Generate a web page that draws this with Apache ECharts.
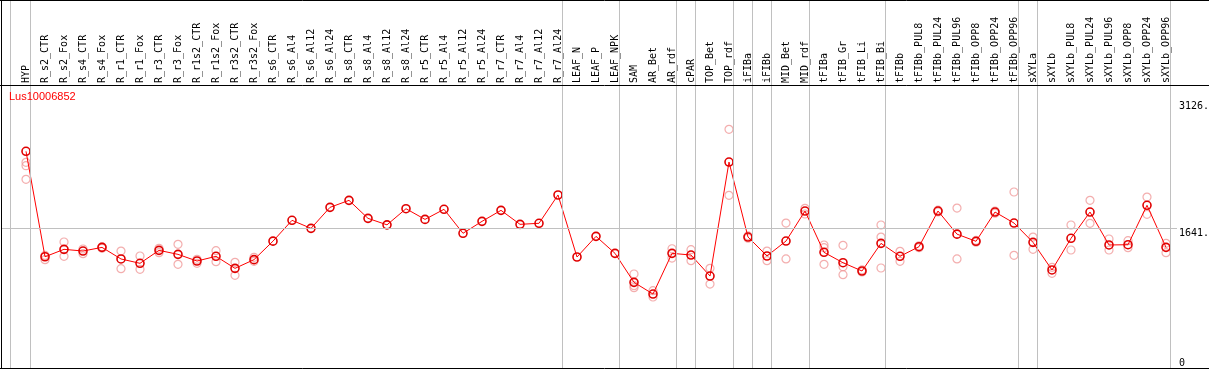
<!DOCTYPE html>
<html>
<head>
<meta charset="utf-8">
<script src="https://cdn.jsdelivr.net/npm/echarts@6/dist/echarts.min.js"></script>
<style>
  html, body { margin: 0; padding: 0; background: #fff; }
  #chart { width: 1209px; height: 370px; }
</style>
</head>
<body>
<div id="chart"></div>
<script>
const geneName = 'Lus10006852';

const categories = [
  'HYP', 'R_s2_CTR', 'R_s2_Fox', 'R_s4_CTR', 'R_s4_Fox', 'R_r1_CTR', 'R_r1_Fox', 'R_r3_CTR', 'R_r3_Fox',
  'R_r1s2_CTR', 'R_r1s2_Fox', 'R_r3s2_CTR', 'R_r3s2_Fox', 'R_s6_CTR', 'R_s6_Al4', 'R_s6_Al12', 'R_s6_Al24',
  'R_s8_CTR', 'R_s8_Al4', 'R_s8_Al12', 'R_s8_Al24', 'R_r5_CTR', 'R_r5_Al4', 'R_r5_Al12', 'R_r5_Al24',
  'R_r7_CTR', 'R_r7_Al4', 'R_r7_Al12', 'R_r7_Al24', 'LEAF_N', 'LEAF_P', 'LEAF_NPK', 'SAM', 'AR_Bet', 'AR_rdf',
  'cPAR', 'TOP_Bet', 'TOP_rdf', 'iFIBa', 'iFIBb', 'MID_Bet', 'MID_rdf', 'tFIBa', 'tFIB_Gr', 'tFIB_Li', 'tFIB_Bi',
  'tFIBb', 'tFIBb_PUL8', 'tFIBb_PUL24', 'tFIBb_PUL96', 'tFIBb_OPP8', 'tFIBb_OPP24', 'tFIBb_OPP96',
  'sXYLa', 'sXYLb', 'sXYLb_PUL8', 'sXYLb_PUL24', 'sXYLb_PUL96', 'sXYLb_OPP8', 'sXYLb_OPP24', 'sXYLb_OPP96'
];

// mean expression (line)
const expression = [
  2540, 1304, 1391, 1371, 1414, 1278, 1227, 1379, 1332,
  1254, 1309, 1168, 1270, 1487, 1731, 1637, 1883,
  1965, 1754, 1678, 1867, 1742, 1860, 1579, 1719,
  1848, 1684, 1696, 2028, 1301, 1543, 1344, 1004, 867, 1344,
  1324, 1078, 2414, 1535, 1313, 1488, 1840, 1356, 1234, 1137, 1461,
  1309, 1422, 1840, 1569, 1485, 1828, 1699,
  1473, 1149, 1520, 1828, 1442, 1445, 1907, 1414
];

// replicate values (light circles)
const rep1 = [
  2411, 1320, 1477, 1395, 1420, 1371, 1313, 1403, 1450,
  1274, 1375, 1239, 1297, null, null, null, null,
  null, null, null, null, null, null, null, null,
  null, null, null, null, null, null, null, 1102, 906, 1398,
  1387, 1168, 2798, 1548, 1371, 1699, 1872, 1442, 1438, 1150, 1676,
  1368, 1432, 1850, 1875, 1495, 1840, 2063,
  1535, 1180, 1676, 1965, 1512, 1492, 2004, 1461
];
const rep2 = [
  2371, 1270, 1309, 1340, 1405, 1164, 1157, 1352, 1215,
  1227, 1246, 1086, 1250, null, null, null, null,
  null, null, null, null, null, null, null, null,
  null, null, null, null, null, null, null, 941, 832, 1289,
  1258, 984, 2024, 1522, 1258, 1278, 1805, 1410, 1187, 1125, 1535,
  1250, 1410, 1830, 1278, 1475, 1815, 1321,
  1391, 1110, 1383, 1696, 1383, 1410, 1801, 1352
];
const rep3 = [
  2211, null, null, null, null, null, null, null, null,
  null, null, null, null, null, null, null, null,
  null, null, null, null, null, null, null, null,
  null, null, null, null, null, null, null, 965, null, null,
  null, null, null, null, null, null, null, 1215, 1094, null, 1172,
  null, null, null, null, null, null, null,
  null, null, null, null, null, null, null, null
];

// y-axis tick labels
const yTicksTop = [1641, 3126];
const yTicksBottom = [0];
const refLineValue = 1641;

// group separators (in category-index units)
const groupBreaks = [-0.84, 0.22, 28.24, 31.24, 34.24, 35.24, 37.2, 38.2, 39.24, 41.24, 45.24, 52.2, 53.2, 60.2];

const chart = echarts.init(document.getElementById('chart'), null, { renderer: 'canvas' });

const repData = [rep1, rep2, rep3].map(arr => {
  const out = [];
  arr.forEach((v, i) => { if (v != null) out.push([i, v]); });
  return out;
});

const monoFont = 'DejaVu Sans Mono';
// plot geometry
const BAND = 19, FIRST = 26, W = 1209, H = 370, PLOT_TOP = 86, PLOT_BOTTOM = 368, RIGHT_EDGE = 1177;
const pxPerUnit = (PLOT_BOTTOM - 228) / refLineValue;
const yMaxData = (PLOT_BOTTOM - PLOT_TOP) / pxPerUnit;
const yMaxFull = PLOT_BOTTOM / pxPerUnit;

const option = {
  animation: false,
  backgroundColor: '#fff',
  title: {
    text: geneName, left: 9, top: 91, padding: 0,
    textStyle: { fontFamily: 'Liberation Sans', fontSize: 11, fontWeight: 'normal', color: '#ff0000' }
  },
  grid: [
    { // data grid
      left: FIRST - BAND / 2, width: categories.length * BAND,
      top: PLOT_TOP, bottom: H - PLOT_BOTTOM, outerBoundsMode: 'none', containLabel: false
    },
    { // decoration grid, full height
      left: 1, right: W - RIGHT_EDGE, top: 0, bottom: H - PLOT_BOTTOM, outerBoundsMode: 'none', containLabel: false
    }
  ],
  xAxis: [
    {
      type: 'category', gridIndex: 0, data: categories, position: 'top', boundaryGap: true,
      axisLine: { show: false }, axisTick: { show: false }, splitLine: { show: false },
      axisLabel: { interval: 0, rotate: 90, margin: 3, fontFamily: monoFont, fontSize: 10, color: '#000' }
    },
    {
      type: 'value', gridIndex: 1, min: (1 - FIRST) / BAND, max: (RIGHT_EDGE - FIRST) / BAND,
      show: false
    }
  ],
  yAxis: [
    {
      type: 'value', gridIndex: 0, min: 0, max: yMaxData, show: false
    },
    {
      type: 'value', gridIndex: 1, min: 0, max: yMaxFull, position: 'right',
      axisLine: { show: false }, axisTick: { show: false }, splitLine: { show: false },
      axisLabel: {
        customValues: yTicksTop, margin: 2, verticalAlign: 'top', align: 'left',
        fontFamily: monoFont, fontSize: 10, color: '#000',
        formatter: v => v + '.'
      }
    },
    {
      type: 'value', gridIndex: 1, min: 0, max: yMaxFull, position: 'right',
      axisLine: { show: false }, axisTick: { show: false }, splitLine: { show: false },
      axisLabel: {
        customValues: yTicksBottom, margin: 2, verticalAlign: 'bottom', align: 'left',
        fontFamily: monoFont, fontSize: 10, color: '#000',
        formatter: v => String(v)
      }
    }
  ],
  graphic: [
    { type: 'line', shape: { x1: 0, y1: 0.5, x2: W, y2: 0.5 }, style: { stroke: '#000', lineWidth: 1 }, z: 100 },
    { type: 'line', shape: { x1: 1.5, y1: 0, x2: 1.5, y2: PLOT_BOTTOM }, style: { stroke: '#000', lineWidth: 1 }, z: 100 },
    { type: 'line', shape: { x1: 0, y1: 85.5, x2: W, y2: 85.5 }, style: { stroke: '#000', lineWidth: 1 }, z: 100 },
    { type: 'line', shape: { x1: 0, y1: PLOT_BOTTOM + 0.5, x2: W, y2: PLOT_BOTTOM + 0.5 }, style: { stroke: '#000', lineWidth: 1 }, z: 100 }
  ],
  series: [
    {
      type: 'line', xAxisIndex: 1, yAxisIndex: 1, data: [], silent: true, z: 1,
      markLine: {
        symbol: 'none', silent: true, animation: false,
        label: { show: false },
        lineStyle: { color: '#c0c0c0', type: 'solid', width: 1 },
        emphasis: { disabled: true },
        data: groupBreaks.map(v => ({ xAxis: v })).concat([{ yAxis: refLineValue }])
      }
    },
    ...repData.map(d => ({
      type: 'scatter', xAxisIndex: 0, yAxisIndex: 0, data: d, z: 2,
      symbol: 'circle', symbolSize: 8,
      itemStyle: { color: 'transparent', borderColor: '#f09a9a', borderWidth: 1.2 }
    })),
    {
      type: 'line', xAxisIndex: 0, yAxisIndex: 0, data: expression, z: 3,
      symbol: 'circle', symbolSize: 8, showAllSymbol: true,
      lineStyle: { color: '#ff0000', width: 1 },
      itemStyle: { color: 'transparent', borderColor: '#e00000', borderWidth: 1.6 }
    }
  ]
};

chart.setOption(option);
</script>
</body>
</html>
